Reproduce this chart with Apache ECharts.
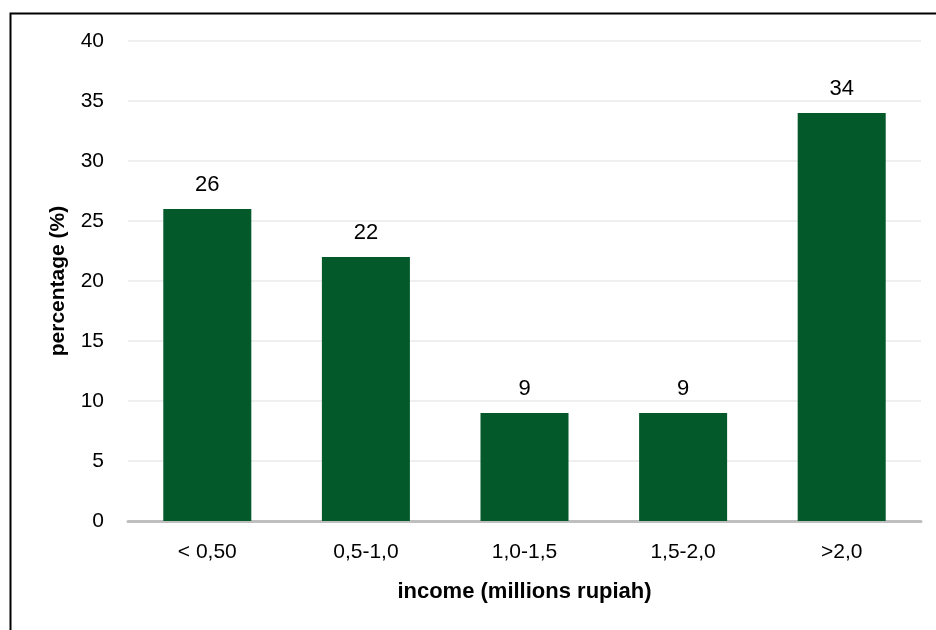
<!DOCTYPE html>
<html><head><meta charset="utf-8">
<script src="https://cdn.jsdelivr.net/npm/echarts@6/dist/echarts.min.js"></script>
<style>html,body{margin:0;padding:0;background:#fff}#c{width:936px;height:630px}</style>
</head><body><div id="c"></div>
<script>
const categories = ['< 0,50', '0,5-1,0', '1,0-1,5', '1,5-2,0', '>2,0'];
const percentages = [26, 22, 9, 9, 34];
const yTicks = { min: 0, max: 40, interval: 5 };
const FONT = '"Liberation Sans Narrow", "Liberation Sans", Arial, sans-serif';

const chart = echarts.init(document.getElementById('c'));
chart.setOption({
  animation: false,
  graphic: [{
    type: 'rect', left: 8, top: 11,
    shape: { width: 940, height: 640 },
    style: { fill: 'none', stroke: '#000', lineWidth: 2 }, z: 100
  }],
  grid: { left: 128, right: 15, top: 41, bottom: 109, containLabel: false },
  xAxis: {
    type: 'category', data: categories,
    name: 'income (millions rupiah)', nameLocation: 'middle', nameGap: 60,
    nameTextStyle: { fontFamily: FONT, fontSize: 22, fontWeight: 'bold', color: '#000' },
    axisLine: { lineStyle: { color: '#BFBFBF', width: 3 } },
    axisTick: { show: false },
    axisLabel: { fontFamily: FONT, fontSize: 21, color: '#000', margin: 21 }
  },
  yAxis: {
    type: 'value', min: yTicks.min, max: yTicks.max, interval: yTicks.interval,
    name: 'percentage (%)', nameLocation: 'middle', nameGap: 59,
    nameTextStyle: { fontFamily: FONT, fontSize: 21, fontWeight: 'bold', color: '#000' },
    axisLine: { show: false }, axisTick: { show: false },
    axisLabel: { fontFamily: FONT, fontSize: 21, color: '#000', margin: 24 },
    splitLine: { lineStyle: { color: '#EFEFEF', width: 2 } }
  },
  series: [{
    type: 'bar', data: percentages, barWidth: '55.5%',
    itemStyle: { color: '#04592B' },
    label: { show: true, position: 'top', distance: 13, fontFamily: FONT, fontSize: 22, color: '#000' }
  }]
});
</script></body></html>
